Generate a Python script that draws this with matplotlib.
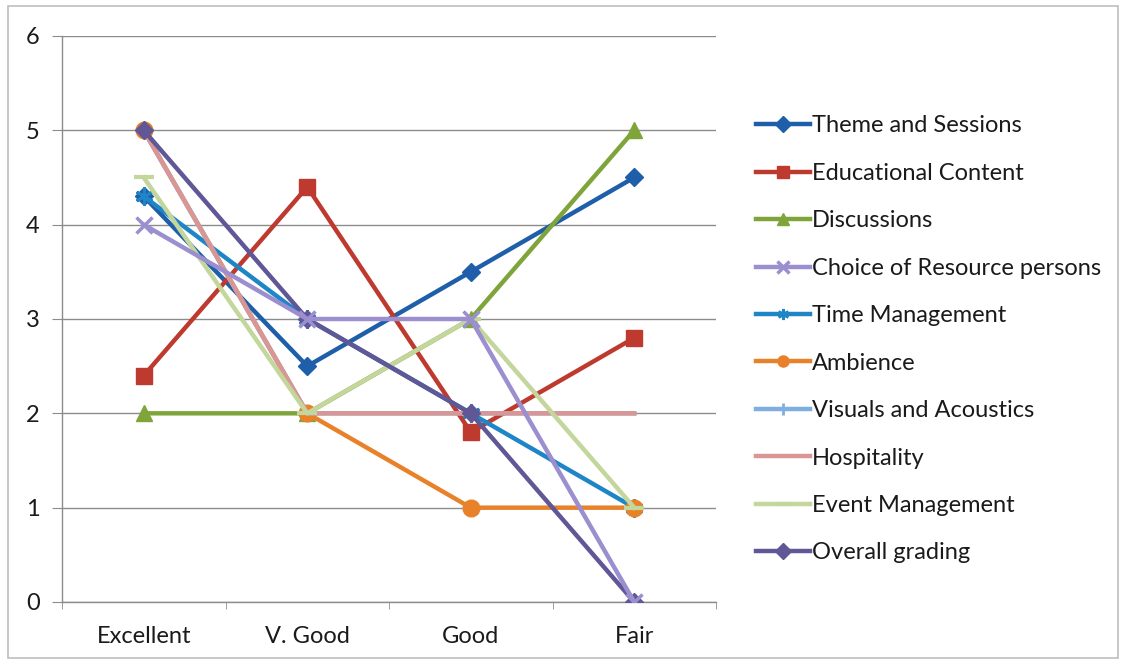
import matplotlib
matplotlib.use("Agg")
import matplotlib.pyplot as plt
from matplotlib.lines import Line2D

plt.rcParams['font.family'] = ['Lato', 'DejaVu Sans']

categories = ["Excellent", "V. Good", "Good", "Fair"]

theme_sessions = [4.3, 2.5, 3.5, 4.5]
educational_content = [2.4, 4.4, 1.8, 2.8]
discussions = [2, 2, 3, 5]
choice_resource = [4, 3, 3, 0]
time_management = [4.3, 3, 2, 1]
ambience = [5, 2, 1, 1]
visuals_acoustics = [5, 2, 2, 2]
hospitality = [5, 2, 2, 2]
event_management = [4.5, 2, 3, 1]
overall_grading = [5, 3, 2, 0]

series_names = ["Theme and Sessions", "Educational Content", "Discussions",
                "Choice of Resource persons", "Time Management", "Ambience",
                "Visuals and Acoustics", "Hospitality", "Event Management",
                "Overall grading"]
series_values = [theme_sessions, educational_content, discussions, choice_resource,
                 time_management, ambience, visuals_acoustics, hospitality,
                 event_management, overall_grading]

colors = ["#1F5EA8", "#BE3A2F", "#7FA53A", "#9B8FCF", "#1E86C6", "#E8822A",
          "#7FAEE0", "#D99694", "#C3D69B", "#5F5796"]
markers = ["D", "s", "^", "x", (6, 2, 0), "o", "|", None, "_", "D"]
msizes = [9, 11, 11, 11, 13, 12, 0, 0, 14, 9]
mews = [1, 1, 1, 2.5, 2, 1, 2, 1, 3, 1]
zorders = [3, 3, 3, 3.5, 3, 3, 3, 3, 3, 3]

TXT = "#1A1A1A"
fig = plt.figure(figsize=(11.24, 6.64), dpi=100)
fig.patches.append(plt.Rectangle((8/1124, 6/664), 1110/1124, 652/664,
                                 transform=fig.transFigure, fill=False,
                                 edgecolor="#BFBFBF", lw=1.2))

L, R, T, B = 62, 716, 36, 602
ax = fig.add_axes([L/1124, 1 - B/664, (R-L)/1124, (B-T)/664])

x = list(range(len(categories)))
for name, vals, c, m, ms, mew, z in zip(series_names, series_values, colors, markers,
                                         msizes, mews, zorders):
    ax.plot(x, vals, color=c, lw=3.2, marker=m, markersize=ms,
            markeredgewidth=mew, markeredgecolor=c, markerfacecolor=c,
            label=name, zorder=z)

ax.set_xlim(-0.5, 3.5)
ax.set_ylim(0, 6)
ax.set_yticks(range(0, 7))
ax.set_xticks(x)
ax.set_xticklabels(categories, fontsize=17, color=TXT)
ax.tick_params(axis='x', length=0, pad=17)
ax.set_xticks([-0.5, 0.5, 1.5, 2.5, 3.5], minor=True)
ax.tick_params(axis='x', which='minor', length=5, color="#8C8C8C", direction='out')
ax.tick_params(axis='y', length=7, color="#8C8C8C", labelsize=17, labelcolor=TXT,
               pad=9, direction='out')
ax.grid(axis='y', color="#8C8C8C", lw=1)
ax.set_axisbelow(True)
for s in ["top", "right"]:
    ax.spines[s].set_visible(False)
for s in ["left", "bottom"]:
    ax.spines[s].set_color("#8C8C8C")
    ax.spines[s].set_linewidth(1)

handles = []
for name, c, m, mew in zip(series_names, colors, markers, mews):
    handles.append(Line2D([], [], color=c, lw=3.2, marker=m, markersize=8,
                          markeredgewidth=mew, markeredgecolor=c, markerfacecolor=c))
leg = fig.legend(handles, series_names, loc='upper left',
                 bbox_to_anchor=(747/1124, 1 - 106/664), frameon=False,
                 fontsize=17, handlelength=2.25, handletextpad=0.1,
                 labelspacing=1.12, borderaxespad=0, labelcolor=TXT)

fig.savefig("out.png", dpi=100, facecolor="white")
